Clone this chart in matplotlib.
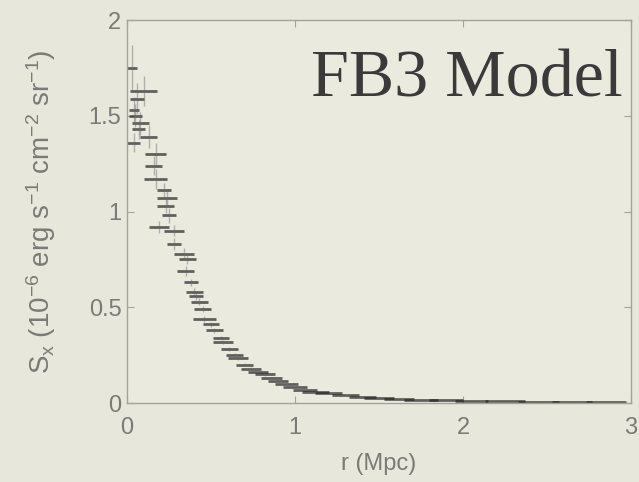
import matplotlib
matplotlib.use("Agg")
import matplotlib.pyplot as plt

# Surface-brightness profile: bin centre radius, bin half-width, brightness and its error
radius_mpc = [0.03, 0.10, 0.06, 0.04, 0.05, 0.08, 0.07, 0.13, 0.04, 0.17, 0.16, 0.17,
              0.22, 0.24, 0.23, 0.25, 0.19, 0.28, 0.28, 0.34, 0.36, 0.35, 0.38, 0.40,
              0.41, 0.43, 0.45, 0.46, 0.50, 0.52, 0.56, 0.57, 0.61, 0.64, 0.66, 0.70,
              0.74, 0.78, 0.82, 0.86, 0.90, 0.95, 1.00, 1.06, 1.12, 1.20, 1.30, 1.40,
              1.50, 1.62, 1.75, 1.90, 2.05, 2.25, 2.45, 2.65, 2.85]
radius_halfwidth = [0.03, 0.08, 0.04, 0.03, 0.04, 0.05, 0.04, 0.05, 0.04, 0.06, 0.05, 0.07,
                    0.04, 0.06, 0.05, 0.04, 0.06, 0.06, 0.04, 0.06, 0.05, 0.05, 0.04, 0.05,
                    0.04, 0.05, 0.05, 0.07, 0.05, 0.05, 0.05, 0.06, 0.05, 0.05, 0.06, 0.05,
                    0.06, 0.06, 0.06, 0.06, 0.06, 0.07, 0.07, 0.07, 0.08, 0.08, 0.08, 0.08,
                    0.09, 0.09, 0.10, 0.10, 0.10, 0.12, 0.12, 0.12, 0.12]
brightness = [1.75, 1.63, 1.59, 1.53, 1.50, 1.46, 1.43, 1.39, 1.36, 1.30, 1.24, 1.17,
              1.11, 1.07, 1.03, 0.98, 0.92, 0.90, 0.83, 0.78, 0.75, 0.69, 0.63, 0.58,
              0.56, 0.53, 0.49, 0.44, 0.41, 0.38, 0.34, 0.32, 0.28, 0.25, 0.235, 0.20,
              0.18, 0.16, 0.15, 0.13, 0.115, 0.10, 0.085, 0.07, 0.06, 0.05, 0.04, 0.032,
              0.026, 0.021, 0.017, 0.014, 0.011, 0.009, 0.007, 0.006, 0.005]
brightness_err = [0.12, 0.08, 0.08, 0.07, 0.06, 0.06, 0.05, 0.06, 0.05, 0.06, 0.05, 0.05,
                  0.04, 0.04, 0.04, 0.04, 0.03, 0.03, 0.03, 0.03, 0.025, 0.025, 0.02, 0.02,
                  0.02, 0.02, 0.015, 0.015, 0.015, 0.012, 0.012, 0.01, 0.01, 0.01, 0.01,
                  0.008, 0.008, 0.007, 0.007, 0.006, 0.006, 0.005, 0.005, 0.004, 0.004,
                  0.004, 0.003, 0.003, 0.003, 0.002, 0.002, 0.002, 0.002, 0.002, 0.002,
                  0.002, 0.002]

x_ticks = [0, 1, 2, 3]
y_ticks = [0, 0.5, 1, 1.5, 2]
y_tick_labels = ["0", "0.5", "1", "1.5", "2"]

plt.rcParams["font.family"] = ["Liberation Sans", "DejaVu Sans"]
plt.rcParams["mathtext.fontset"] = "custom"
plt.rcParams["mathtext.rm"] = "Liberation Sans"
plt.rcParams["mathtext.it"] = "Liberation Sans:italic"

bg = "#e7e7db"
label_grey = "#7a7a76"

fig = plt.figure(figsize=(6.39, 4.82), dpi=100, facecolor=bg)
ax = fig.add_axes([127 / 639, (482 - 403) / 482, (631 - 127) / 639, (403 - 20) / 482])
ax.set_facecolor("#eaeadf")

eb = ax.errorbar(radius_mpc, brightness, xerr=radius_halfwidth, yerr=brightness_err,
                 fmt="none", capsize=0)
x_bars, y_bars = eb.lines[2]
x_bars.set_color("#262626")
x_bars.set_linewidth(2.0)
x_bars.set_alpha(0.7)
y_bars.set_color("#6a6a6a")
y_bars.set_linewidth(1.0)
y_bars.set_alpha(0.45)

ax.set_xlim(0, 3)
ax.set_ylim(0, 2)
ax.set_xticks(x_ticks)
ax.set_xticklabels([str(t) for t in x_ticks])
ax.set_yticks(y_ticks)
ax.set_yticklabels(y_tick_labels)

for side in ax.spines.values():
    side.set_color("#a3a39c")
    side.set_linewidth(1.0)

ax.tick_params(axis="both", direction="in", length=5, width=0.8, color="#a3a39c",
               labelsize=17, labelcolor=label_grey, top=True, right=True)
ax.tick_params(axis="x", pad=10)
ax.tick_params(axis="y", pad=4)

ax.set_xlabel("r (Mpc)", fontsize=17, color=label_grey, labelpad=10)
ax.set_ylabel(r"S$_{\rm x}$ (10$^{-6}$ erg s$^{-1}$ cm$^{-2}$ sr$^{-1}$)",
              fontsize=20, color=label_grey, labelpad=22)

ax.text(0.984, 0.80, "FB3 Model", transform=ax.transAxes, ha="right", va="baseline",
        fontsize=49, color="#3a3a3a", family=["Liberation Serif", "DejaVu Serif"])

fig.savefig("out.png", dpi=100, facecolor=bg)
